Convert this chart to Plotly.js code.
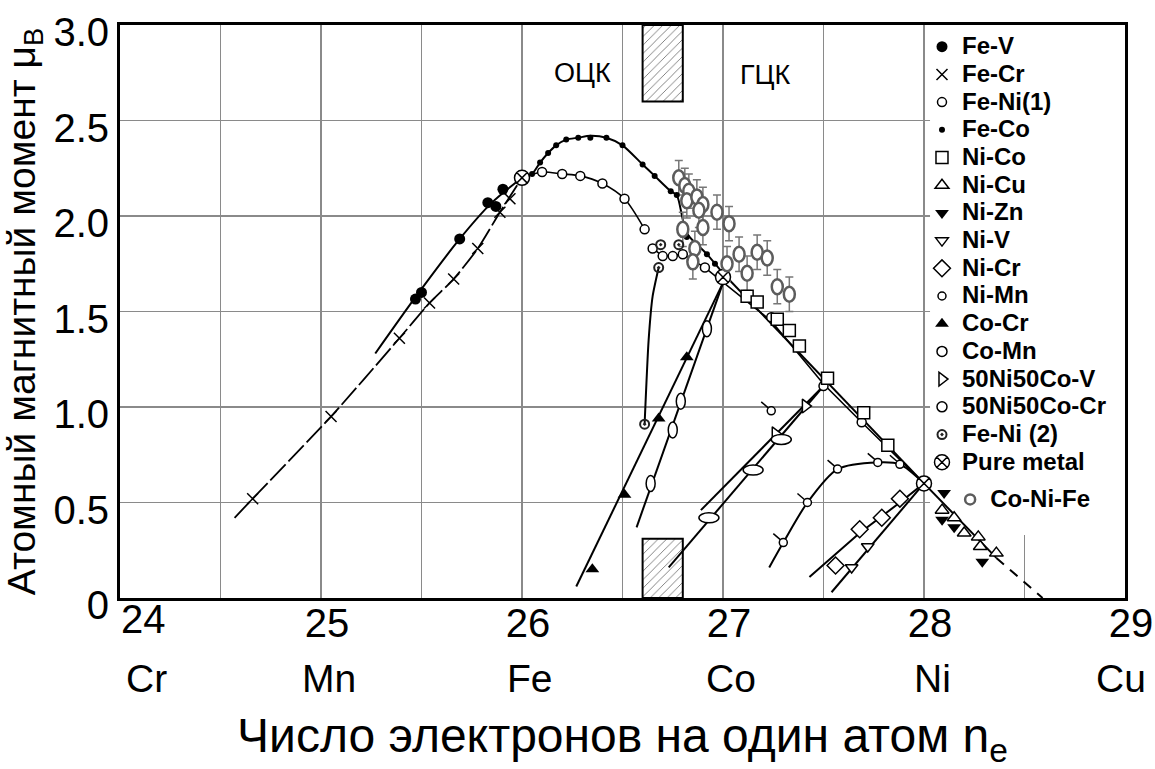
<!DOCTYPE html>
<html><head><meta charset="utf-8">
<script src="https://cdn.plot.ly/plotly-3.0.1.min.js"></script>
<style>html,body{margin:0;padding:0;background:#fff}</style>
</head><body><div id="chart" style="width:1155px;height:769px"></div>
<script>
// ---------- axis labels ----------
const xTickVals = [24,24.5,25,25.5,26,26.5,27,27.5,28,28.5,29];
const xTickText = ['','','25','','26','','27','','28','','29'];
const xFirstLabel = '24';
const yTickVals = [0,0.5,1,1.5,2,2.5,3];
const yTickText = ['0','0.5','1.0','1.5','2.0','2.5','3.0'];
const elementX = [24,25,26,27,28,29];
const elementNames = ['Cr','Mn','Fe','Co','Ni','Cu'];
const xTitle = 'Число электронов на один атом n<sub>e</sub>';
const yTitle = 'Атомный магнитный момент μ<sub>B</sub>';

// ---------- series ----------
const feV_x = [25.47,25.50,25.69,25.83,25.87,25.905];
const feV_y = [1.565,1.60,1.88,2.07,2.05,2.14];
const feV_curveX = [25.27,25.47,25.69,25.85,26.0];
const feV_curveY = [1.28,1.575,1.88,2.07,2.20];

const feCr_x = [24.66,25.05,25.39,25.54,25.66,25.78,25.89,25.94];
const feCr_y = [0.52,0.95,1.36,1.545,1.67,1.83,2.02,2.09];
const feCr_curveX = [24.57,24.66,25.05,25.39,25.54,25.66,25.78,25.89,26.0];
const feCr_curveY = [0.42,0.52,0.95,1.36,1.545,1.67,1.83,2.02,2.20];

const feNi1_x = [26.10,26.20,26.29,26.40,26.51,26.61,26.65,26.70,26.75,26.80,26.91,27.24,27.50,27.69];
const feNi1_y = [2.23,2.22,2.21,2.17,2.09,1.93,1.83,1.79,1.79,1.80,1.73,1.47,1.11,0.92];
const feNi1bcc_curveX = [26.0,26.10,26.20,26.29,26.40,26.51,26.61];
const feNi1bcc_curveY = [2.20,2.23,2.22,2.21,2.17,2.09,1.93];
const feNi1fcc_curveX = [26.65,26.70,26.80,26.91,27.24,27.50,27.69,28.0];
const feNi1fcc_curveY = [1.83,1.79,1.80,1.73,1.45,1.12,0.92,0.60];

const feCo_x = [26.05,26.09,26.13,26.17,26.22,26.28,26.34,26.42,26.50,26.60,26.66,26.74,26.77,26.82,26.92,26.96];
const feCo_y = [2.22,2.28,2.33,2.37,2.40,2.41,2.41,2.41,2.37,2.27,2.21,2.13,2.11,1.89,1.80,1.75];
const feCo_curveX = [26.0,26.05,26.09,26.13,26.17,26.22,26.28,26.34,26.42,26.50,26.60,26.66,26.74,26.77,26.82,26.92,27.0];
const feCo_curveY = [2.20,2.22,2.28,2.33,2.37,2.40,2.41,2.42,2.41,2.37,2.27,2.21,2.13,2.11,1.91,1.80,1.70];

const niCo_x = [27.12,27.17,27.27,27.33,27.38,27.52,27.70,27.82];
const niCo_y = [1.58,1.55,1.46,1.40,1.32,1.15,0.97,0.80];
const niCo_curveX = [27.0,28.0];
const niCo_curveY = [1.70,0.60];

const niCu_x = [28.09,28.15,28.20,28.27,28.28,28.36];
const niCu_y = [0.46,0.42,0.34,0.32,0.27,0.235];
const niCu_curveX = [28.0,28.36];
const niCu_curveY = [0.60,0.21];
const niCu_tailX = [28.36,28.59];
const niCu_tailY = [0.21,0.0];

const niZn_x = [28.10,28.09,28.15,28.29];
const niZn_y = [0.55,0.41,0.37,0.19];

const niV_x = [27.64,27.72];
const niV_y = [0.16,0.27];
const niV_curveX = [27.54,28.0];
const niV_curveY = [0.03,0.60];

const niCr_x = [27.56,27.68,27.79,27.88];
const niCr_y = [0.17,0.36,0.42,0.52];
const niCr_curveX = [27.43,27.68,27.88,28.0];
const niCr_curveY = [0.11,0.34,0.50,0.60];

const niMn_x = [27.30,27.42,27.57,27.77,27.88,27.24];
const niMn_y = [0.29,0.50,0.675,0.71,0.70,0.98];
const niMn_curveX = [27.23,27.30,27.42,27.57,27.77,27.88,28.0];
const niMn_curveY = [0.16,0.29,0.50,0.675,0.71,0.70,0.60];

const coCr_x = [26.35,26.51,26.68,26.82];
const coCr_y = [0.15,0.54,0.94,1.26];
const coCr_curveX = [26.27,27.0];
const coCr_curveY = [0.06,1.65];

const coMn_x = [26.64,26.75,26.79,26.92];
const coMn_y = [0.60,0.88,1.03,1.41];
const coMn_curveX = [26.57,27.0];
const coMn_curveY = [0.37,1.65];

const ni50V_x = [27.26,27.41];
const ni50V_y = [0.86,1.005];
const ni50V_curveX = [26.89,27.50];
const ni50V_curveY = [0.46,1.11];

const ni50Cr_x = [26.93,27.15,27.29];
const ni50Cr_y = [0.42,0.67,0.83];
const ni50Cr_curveX = [26.73,27.50];
const ni50Cr_curveY = [0.16,1.11];

const feNi2_x = [26.61,26.68,26.69,26.78];
const feNi2_y = [0.91,1.73,1.85,1.85];
const feNi2_curveX = [26.61,26.63,26.65,26.68];
const feNi2_curveY = [0.91,1.35,1.58,1.73];

const pure_x = [26.0,27.0,28.0];
const pure_y = [2.20,1.68,0.60];

const coNiFe_x = [26.78,26.81,26.83,26.82,26.87,26.90,26.88,26.97,27.03,26.80,26.90,26.86,26.85,27.02,27.08,27.12,27.17,27.22,27.27,27.33];
const coNiFe_y = [2.20,2.16,2.13,2.08,2.10,2.06,2.03,2.02,1.96,1.93,1.94,1.83,1.76,1.75,1.80,1.70,1.81,1.78,1.63,1.59];
const coNiFe_err = 0.09;

// hatched bcc/fcc boundary bands
const hatchX = [26.7,26.7];
const hatchBase = [2.6,0];
const hatchLen = [0.4,0.31];

// ---------- traces ----------
const BLK = 'black';
const GREY = '#5c5c5c';
const LEG = s => '<span style="font-size:24px">' + s + '</span>';
function lineTrace(x, y, extra) {
  return {type:'scatter', mode:'lines', x:x, y:y, showlegend:false, hoverinfo:'skip',
          line:Object.assign({color:BLK, width:2}, extra||{})};
}
function mk(name, x, y, marker, extra) {
  return Object.assign({type:'scatter', mode:'markers', name:LEG(name), x:x, y:y,
          marker:marker, cliponaxis:false}, extra||{});
}
const openM = (symbol, size) => ({symbol:symbol, size:size, color:'white', line:{color:BLK, width:1.5}});

const traces = [
  {type:'bar', x:hatchX, y:hatchLen, base:hatchBase, width:0.2, showlegend:false, hoverinfo:'skip',
   marker:{color:'white', line:{color:BLK, width:2},
           pattern:{shape:'/', fgcolor:'#555', bgcolor:'white', size:6, solidity:0.12}}},
  lineTrace(feV_curveX, feV_curveY, {shape:'spline', smoothing:0.8}),
  lineTrace(feCr_curveX, feCr_curveY, {shape:'spline', smoothing:0.6, dash:'22px,4px', width:1.8}),
  lineTrace(feNi1bcc_curveX, feNi1bcc_curveY, {shape:'spline', smoothing:0.8, width:1.6}),
  lineTrace(feNi1fcc_curveX, feNi1fcc_curveY, {width:1.6}),
  lineTrace(feCo_curveX, feCo_curveY, {shape:'spline', smoothing:0.7}),
  lineTrace(niCo_curveX, niCo_curveY),
  lineTrace(niCu_curveX, niCu_curveY),
  lineTrace(niCu_tailX, niCu_tailY, {dash:'10px,8px'}),
  lineTrace(niV_curveX, niV_curveY),
  lineTrace(niCr_curveX, niCr_curveY),
  lineTrace(niMn_curveX, niMn_curveY, {shape:'spline', smoothing:0.8}),
  lineTrace(coCr_curveX, coCr_curveY),
  lineTrace(coMn_curveX, coMn_curveY),
  lineTrace(ni50V_curveX, ni50V_curveY),
  lineTrace(ni50Cr_curveX, ni50Cr_curveY),
  lineTrace(feNi2_curveX, feNi2_curveY, {shape:'spline', smoothing:0.6}),
  // Co-Ni-Fe error bars (ellipse markers drawn as shapes)
  {type:'scatter', mode:'markers', x:coNiFe_x, y:coNiFe_y, showlegend:false, hoverinfo:'skip',
   marker:{size:4, opacity:0}, error_y:{type:'constant', value:coNiFe_err, color:'#777', thickness:1.5, width:4}},

  mk('Fe-V', feV_x, feV_y, {symbol:'circle', size:11, color:BLK}),
  mk('Fe-Cr', feCr_x, feCr_y, {symbol:'x-thin-open', size:11, color:BLK, line:{color:BLK, width:1.5}}),
  mk('Fe-Ni(1)', feNi1_x, feNi1_y, openM('circle', 9)),
  mk('Fe-Co', feCo_x, feCo_y, {symbol:'circle', size:6, color:BLK}),
  mk('Ni-Co', niCo_x, niCo_y, openM('square', 12)),
  mk('Ni-Cu', niCu_x, niCu_y, openM('triangle-up', 12)),
  mk('Ni-Zn', niZn_x, niZn_y, {symbol:'triangle-down', size:12, color:BLK}),
  mk('Ni-V', niV_x, niV_y, openM('triangle-down', 11)),
  mk('Ni-Cr', niCr_x, niCr_y, openM('diamond', 13)),
  mk('Ni-Mn', niMn_x, niMn_y, openM('circle', 8)),
  mk('Co-Cr', coCr_x, coCr_y, {symbol:'triangle-up', size:12, color:BLK}),
  mk('Co-Mn', [null], [null], openM('circle', 10)),
  mk('50Ni50Co-V', ni50V_x, ni50V_y, openM('triangle-right', 12)),
  mk('50Ni50Co-Cr', [null], [null], openM('circle', 10)),
  mk('Fe-Ni (2)', feNi2_x, feNi2_y, {symbol:'circle-open-dot', size:9, color:'#222', line:{color:'#222', width:2}}),
  mk('Pure metal', pure_x, pure_y, {symbol:'circle-x', size:15, color:'white', line:{color:BLK, width:1.5}}),
  mk('Co-Ni-Fe', [null], [null], {symbol:'circle-open', size:10, color:GREY, line:{color:GREY, width:2.5}},
     {legend:'legend2'})
];

// ---------- shapes ----------
const shapes = [
  {type:'rect', xref:'x', yref:'y', x0:28.03, x1:29, y0:0.33, y1:3, fillcolor:'white', line:{width:0}, layer:'between'}
];
function ellipses(xs, ys, hw, hh, col, lw) {
  xs.forEach((x, i) => shapes.push({type:'circle', xref:'x', yref:'y', xsizemode:'pixel', ysizemode:'pixel',
    xanchor:x, yanchor:ys[i], x0:-hw, x1:hw, y0:-hh, y1:hh, fillcolor:'white', line:{color:col, width:lw}, layer:'above'}));
}
ellipses(coMn_x, coMn_y, 4.5, 8, BLK, 1.5);
ellipses(ni50Cr_x, ni50Cr_y, 10, 5, BLK, 1.5);
niMn_x.forEach((x, i) => shapes.push({type:'line', xref:'x', yref:'y', xsizemode:'pixel', ysizemode:'pixel',
  xanchor:x, yanchor:niMn_y[i], x0:-3, x1:-10, y0:3, y1:9, line:{color:BLK, width:1.5}, layer:'above'}));
ellipses(coNiFe_x, coNiFe_y, 5.5, 7.5, GREY, 2.5);

// ---------- annotations ----------
const FONT = 'Liberation Sans, Arial, sans-serif';
const annotations = elementNames.map((t, i) => ({
  text:t, x:elementX[i], xref:'x', y:-0.14, yref:'paper', showarrow:false,
  xshift: i === 0 ? 26 : (i === elementNames.length - 1 ? -4 : 8),
  font:{family:FONT, size:39, color:BLK}, yanchor:'middle'
}));
// first x tick number, set right of the corner as in the original
annotations.push({text:xFirstLabel, x:elementX[0], xref:'x', y:-0.037, yref:'paper', showarrow:false,
  xshift:23, yanchor:'middle', font:{family:FONT, size:40, color:BLK}});
annotations.push({text:'ОЦК', x:26.30, y:2.75, xref:'x', yref:'y', showarrow:false, font:{family:FONT, size:27, color:BLK}});
annotations.push({text:'ГЦК', x:27.21, y:2.74, xref:'x', yref:'y', showarrow:false, font:{family:FONT, size:27, color:BLK}});

const legendFont = {family:FONT, size:19, color:BLK, weight:700};
const layout = {
  width:1155, height:769,
  margin:{l:120, r:30, t:25, b:171},
  paper_bgcolor:'white', plot_bgcolor:'white',
  showlegend:true,
  barmode:'overlay',
  xaxis:{range:[24,29], tickvals:xTickVals, ticktext:xTickText, showgrid:true, gridcolor:'#8a8a8a', gridwidth:1.4,
         zeroline:false, showline:true, mirror:true, linecolor:BLK, linewidth:3, ticks:'', ticklen:0,
         ticklabelshift:6, ticklabelstandoff:-12, ticklabeloverflow:'allow',
         tickfont:{family:FONT, size:40, color:BLK},
         title:{text:xTitle, font:{family:FONT, size:48, color:BLK}, standoff:78}},
  yaxis:{range:[0,3], tickvals:yTickVals, ticktext:yTickText, showgrid:true, gridcolor:'#8a8a8a', gridwidth:1.4,
         zeroline:false, showline:true, mirror:true, linecolor:BLK, linewidth:3, ticks:'', ticklen:0,
         ticklabelshift:7, ticklabeloverflow:'allow',
         tickfont:{family:FONT, size:40, color:BLK},
         title:{text:yTitle, font:{family:FONT, size:39, color:BLK}, standoff:6}},
  legend:{x:0.798, y:0.995, xanchor:'left', yanchor:'top', bgcolor:'rgba(0,0,0,0)', borderwidth:0,
          itemclick:false, font:legendFont},
  legend2:{x:0.826, y:0.205, xanchor:'left', yanchor:'top', bgcolor:'rgba(0,0,0,0)', borderwidth:0,
          itemclick:false, font:legendFont},
  shapes:shapes,
  annotations:annotations
};

Plotly.newPlot('chart', traces, layout, {displayModeBar:false, staticPlot:true});
</script></body></html>
